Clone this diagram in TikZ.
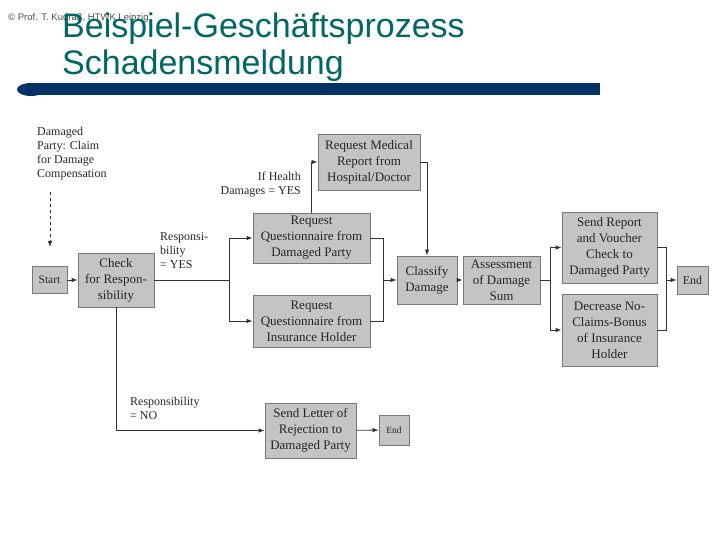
\documentclass[tikz,border=0pt]{standalone}
\usepackage{fontspec}
\setmainfont{Liberation Serif}
\newfontfamily\headfont{Liberation Sans}
\usepackage{tikz}
\usetikzlibrary{arrows.meta, positioning}
\definecolor{titleteal}{RGB}{0,102,102}
\definecolor{barblue}{RGB}{3,51,102}
\definecolor{boxgray}{RGB}{196,196,196}
\definecolor{edgegray}{RGB}{120,120,120}
\begin{document}
\begin{tikzpicture}[
  x=1pt, y=-1pt,
  box/.style={draw=edgegray, fill=boxgray, line width=0.8pt, align=center, inner sep=0pt, font=\fontsize{13}{16}\selectfont, text=black!85},
  lbl/.style={align=left, inner sep=0pt, font=\fontsize{12}{14}\selectfont, text=black!85},
  arr/.style={-{Latex[length=6pt,width=4.5pt]}, line width=0.8pt, draw=black!80},
  ln/.style={line width=0.8pt, draw=black!80}
]
\useasboundingbox (0,0) rectangle (720,540);

% header
\node[anchor=base west, inner sep=0pt, font=\headfont\fontsize{9.5}{11}\selectfont, text=black!70] (copy) at (8,21) {© Prof. T. Kudraß, HTWK Leipzig};
\node[anchor=base west, align=left, inner sep=0pt, font=\headfont\fontsize{34}{37}\selectfont, text=titleteal] (title) at (62,75) {Beispiel-Geschäftsprozess\\Schadensmeldung};
\fill[barblue] (30,83) rectangle (600,95);
\fill[barblue] (31,89.5) ellipse (14 and 6.5);

% process steps
\node[box, minimum width=35, minimum height=27, font=\fontsize{11.5}{13}\selectfont] (start) at (49.5,280) {Start};
\node[box, minimum width=76, minimum height=54] (check) at (116,280) {Check\\for Respon-\\sibility};
\node[box, minimum width=117, minimum height=50] (reqqd) at (311.5,238) {Request\\Questionnaire from\\Damaged Party};
\node[box, minimum width=117, minimum height=52] (reqqi) at (311.5,321) {Request\\Questionnaire from\\Insurance Holder};
\node[box, minimum width=102, minimum height=56] (medical) at (369,162) {Request Medical\\Report from\\Hospital/Doctor};
\node[box, minimum width=60, minimum height=48] (classify) at (427,280) {Classify\\Damage};
\node[box, minimum width=77, minimum height=48] (assess) at (501.5,280) {Assessment\\of Damage\\Sum};
\node[box, minimum width=95, minimum height=71] (sendrep) at (609.5,247.5) {Send Report\\and Voucher\\Check to\\Damaged Party};
\node[box, minimum width=95, minimum height=72] (decrease) at (609.5,330) {Decrease No-\\Claims-Bonus\\of Insurance\\Holder};
\node[box, minimum width=31, minimum height=28, font=\fontsize{12}{14}\selectfont] (end) at (692.5,280) {End};
\node[box, minimum width=91, minimum height=55] (letter) at (310.5,430.5) {Send Letter of\\Rejection to\\Damaged Party};
\node[box, minimum width=30, minimum height=30, font=\fontsize{9.5}{11}\selectfont] (endno) at (394,430) {End};

% labels
\node[lbl, anchor=north west] (claim) at (37,127) {Damaged\\Party: Claim\\for Damage\\Compensation};
\node[lbl, anchor=north west] (respyes) at (160,232) {Responsi-\\bility\\= YES};
\node[lbl, anchor=north east, align=right] (health) at (301,172) {If Health\\Damages = YES};
\node[lbl, anchor=north west] (respno) at (130,397) {Responsibility\\= NO};

% branch points
\coordinate (claimtip) at (50,192);
\coordinate (split1) at (229,280);
\coordinate (join1) at (383,280);
\coordinate (split2) at (550,280);
\coordinate (join2) at (666,280);

% connectors
\draw[arr, dashed, shorten >=19pt] (claimtip) -- (claimtip |- start.north);
\draw[arr] (start) -- (check);
\draw[ln] (check) -- (split1);
\draw[arr] (split1) |- (reqqd);
\draw[arr] (split1) |- (reqqi);
\draw[arr] (reqqd.north) |- (medical.west);
\draw[arr] (medical.east) -| (classify.north);
\draw[ln] (reqqd.east) -| (join1);
\draw[ln] (reqqi.east) -| (join1);
\draw[arr] (join1) -- (classify);
\draw[arr] (classify) -- (assess);
\draw[ln] (assess) -- (split2);
\draw[arr] (split2) |- (sendrep);
\draw[arr] (split2) |- (decrease);
\draw[ln] (sendrep.east) -| (join2);
\draw[ln] (decrease.east) -| (join2);
\draw[arr] (join2) -- (end);
\draw[arr] (check.south) |- (letter.west);
\draw[arr] (letter) -- (endno);
\end{tikzpicture}
\end{document}
